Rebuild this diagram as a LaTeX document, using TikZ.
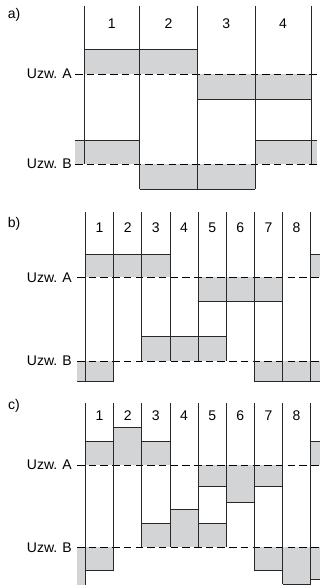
\documentclass[tikz,border=0pt]{standalone}
\usepackage{fontspec}
\setmainfont{Liberation Sans}
\definecolor{boxgray}{RGB}{211,212,213}
\definecolor{linecol}{RGB}{40,40,40}
\begin{document}
\begin{tikzpicture}[x=1pt,y=-1pt,
  fillbox/.style={fill=boxgray,draw=none},
  wire/.style={draw=linecol,line width=0.8pt},
  level/.style={draw=black,line width=0.8pt,dash pattern=on 7.5pt off 4.2pt},
  lbl/.style={font=\fontsize{14}{16}\selectfont,inner sep=0pt},
  num/.style={font=\fontsize{14}{16}\selectfont,inner sep=0pt}]
\useasboundingbox (0,0) rectangle (320,585);

% ================= panel a =================
\node[lbl] (pa) at (14,15) {a)};
% fills
\fill[fillbox] (84,49) rectangle (197.5,74);
\fill[fillbox] (197.5,74) rectangle (311,99);
\fill[fillbox] (75,140.5) rectangle (139.5,164);
\fill[fillbox] (139.5,164) rectangle (255,189);
\fill[fillbox] (255,140.5) rectangle (317,164);
% levels
\draw[level] (75,74) -- (317,74);
\draw[level] (75,164) -- (317,164);
\node[lbl,anchor=east] (aA) at (72,74) {Uzw. A};
\node[lbl,anchor=east] (aB) at (72,164) {Uzw. B};
% verticals
\draw[wire] (84,6) -- (84,164);
\draw[wire] (139.5,6) -- (139.5,189);
\draw[wire] (197.5,6) -- (197.5,189);
\draw[wire] (255,6) -- (255,189);
\draw[wire] (311,6) -- (311,164);
% horizontals
\draw[wire] (84,49) -- (197.5,49);
\draw[wire] (197.5,99) -- (311,99);
\draw[wire] (75,140.5) -- (139.5,140.5);
\draw[wire] (255,140.5) -- (317,140.5);
\draw[wire] (139.5,189) -- (255,189);
% numbers
\node[num] (a1) at (111.75,24) {1};
\node[num] (a2) at (168.5,24) {2};
\node[num] (a3) at (226.25,24) {3};
\node[num] (a4) at (283,24) {4};

% ================= panel b =================
\node[lbl] (pb) at (14,224) {b)};
\fill[fillbox] (85.5,254) rectangle (169.95,277.3);
\fill[fillbox] (310.7,254) rectangle (320,277.3);
\fill[fillbox] (198.1,277.3) rectangle (282.55,301);
\fill[fillbox] (141.8,336) rectangle (226.25,361);
\fill[fillbox] (77,361) rectangle (113.65,381);
\fill[fillbox] (254.4,361) rectangle (320,381);
\draw[level] (77,277.3) -- (320,277.3);
\draw[level] (77,361) -- (320,361);
\node[lbl,anchor=east] (bA) at (72,277.3) {Uzw. A};
\node[lbl,anchor=east] (bB) at (72,361) {Uzw. B};
\foreach \xx/\yy in {85.5/381,113.65/381,141.8/361,169.95/361,198.1/361,226.25/361,254.4/381,282.55/381,310.7/381}
  \draw[wire] (\xx,211.7) -- (\xx,\yy);
\draw[wire] (85.5,254) -- (169.95,254);
\draw[wire] (310.7,254) -- (320,254);
\draw[wire] (198.1,301) -- (282.55,301);
\draw[wire] (141.8,336) -- (226.25,336);
\draw[wire] (77,381) -- (113.65,381);
\draw[wire] (254.4,381) -- (320,381);
\foreach \i in {1,...,8}
  \node[num] (b\i) at ({85.5+28.15*(\i-0.5)},227.3) {\i};

% ================= panel c =================
\node[lbl] (pc) at (14,406) {c)};
% A upper
\fill[fillbox] (85.5,441) rectangle (113.65,465);
\fill[fillbox] (113.65,427.3) rectangle (141.8,465);
\fill[fillbox] (141.8,441) rectangle (169.95,465);
\fill[fillbox] (310.7,441) rectangle (320,465);
% A lower
\fill[fillbox] (198.1,465) rectangle (226.25,486);
\fill[fillbox] (226.25,465) rectangle (254.4,502.7);
\fill[fillbox] (254.4,465) rectangle (282.55,486);
% B upper
\fill[fillbox] (141.8,523.3) rectangle (169.95,547.3);
\fill[fillbox] (169.95,509) rectangle (198.1,547.3);
\fill[fillbox] (198.1,523.3) rectangle (226.25,547.3);
% B lower
\fill[fillbox] (77,547.3) rectangle (85.5,585);
\fill[fillbox] (85.5,547.3) rectangle (113.65,570);
\fill[fillbox] (254.4,547.3) rectangle (282.55,570);
\fill[fillbox] (282.55,547.3) rectangle (310.7,584);
\fill[fillbox] (310.7,547.3) rectangle (320,579);
\draw[level] (77,465) -- (320,465);
\draw[level] (77,547.3) -- (320,547.3);
\node[lbl,anchor=east] (cA) at (72,465) {Uzw. A};
\node[lbl,anchor=east] (cB) at (72,547.3) {Uzw. B};
\foreach \xx/\yy in {85.5/585,113.65/570,141.8/547.3,169.95/547.3,198.1/547.3,226.25/547.3,254.4/570,282.55/584,310.7/584}
  \draw[wire] (\xx,403.3) -- (\xx,\yy);
\draw[wire] (85.5,441) -- (113.65,441);
\draw[wire] (113.65,427.3) -- (141.8,427.3);
\draw[wire] (141.8,441) -- (169.95,441);
\draw[wire] (310.7,441) -- (320,441);
\draw[wire] (198.1,486) -- (226.25,486);
\draw[wire] (226.25,502.7) -- (254.4,502.7);
\draw[wire] (254.4,486) -- (282.55,486);
\draw[wire] (141.8,523.3) -- (169.95,523.3);
\draw[wire] (169.95,509) -- (198.1,509);
\draw[wire] (198.1,523.3) -- (226.25,523.3);
\draw[wire] (85.5,570) -- (113.65,570);
\draw[wire] (254.4,570) -- (282.55,570);
\draw[wire] (282.55,584) -- (310.7,584);
\draw[wire] (310.7,579) -- (320,579);
\foreach \i in {1,...,8}
  \node[num] (c\i) at ({85.5+28.15*(\i-0.5)},415.7) {\i};
\end{tikzpicture}
\end{document}
